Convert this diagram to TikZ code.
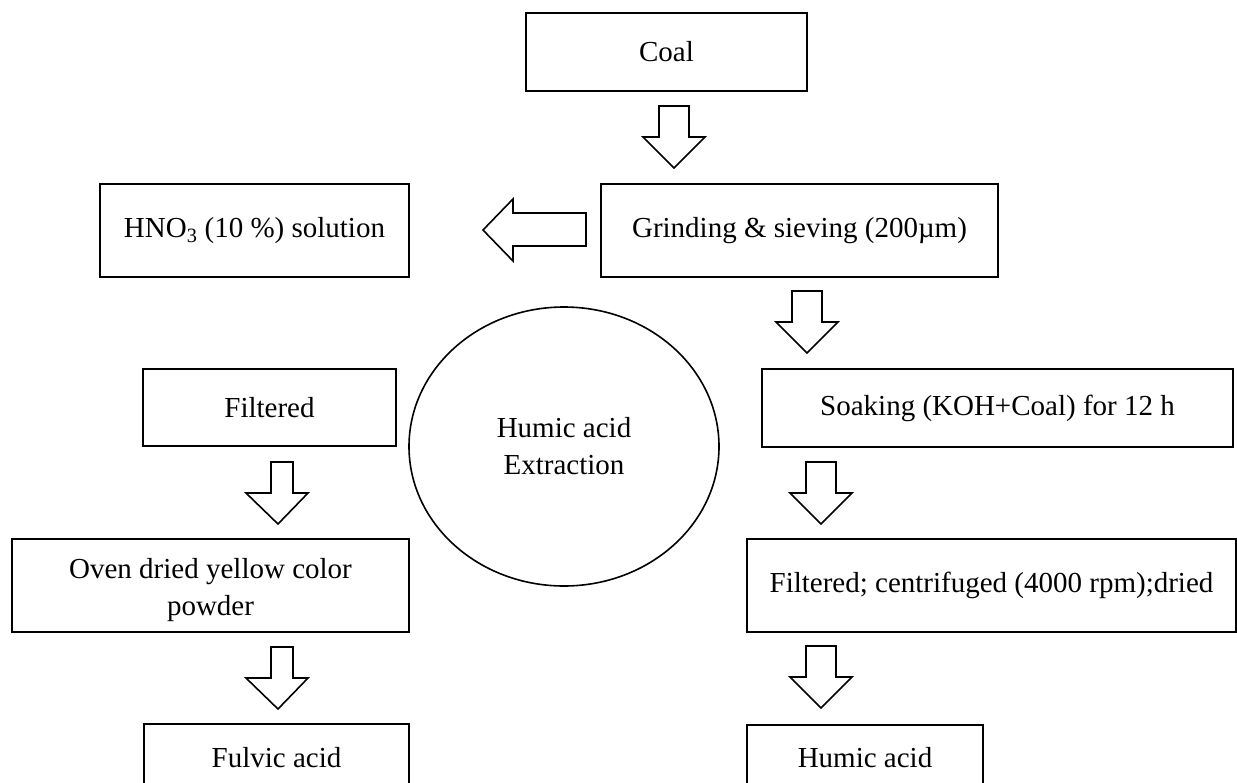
\documentclass[tikz,border=0pt]{standalone}
\usepackage{fontspec}
\setmainfont{Liberation Serif}
\usetikzlibrary{shapes.geometric}
\tikzset{
  txt/.style={font=\fontsize{29}{37}\selectfont, align=center},
  box/.style={draw, line width=2pt, rectangle, inner sep=0pt, txt},
  blk/.style={draw, line width=1.6pt, line join=miter, fill=white},
  pics/downarrow/.style={code={
    \draw[blk] (-15,-62) -- (15,-62) -- (15,-31) -- (31,-31) -- (0,0) -- (-31,-31) -- (-15,-31) -- cycle;}},
  pics/downarrowL/.style={code={
    \draw[blk] (-7,-62) -- (15,-62) -- (15,-31) -- (30,-31) -- (0,0) -- (-32,-31) -- (-7,-31) -- cycle;}},
  pics/leftarrow/.style={code={
    \draw[blk] (103,-17) -- (103,16) -- (30,16) -- (30,31) -- (0,0) -- (30,-31) -- (30,-17) -- cycle;}}
}
\begin{document}
\begin{tikzpicture}[x=1pt,y=-1pt]
\useasboundingbox (0,0) rectangle (1237,782);
\clip (0,0) rectangle (1237,782);
% boxes
\node[box, minimum width=281pt, minimum height=78pt] (coal) at (666.5,52) {Coal};
\node[box, minimum width=397pt, minimum height=93pt] (grind) at (799.5,230.5) {Grinding \& sieving (200µm)};
\node[box, minimum width=309pt, minimum height=93pt] (hno) at (254.5,230.5) {HNO\textsubscript{3} (10 \%) solution};
\node[box, minimum width=253pt, minimum height=77pt] (filtL) at (269.5,407.5) {Filtered};
\node[box, minimum width=471pt, minimum height=78pt] (soak) at (997.5,408) {Soaking (KOH+Coal) for 12 h};
\node[box, minimum width=397pt, minimum height=93pt,
  label={[txt, yshift=-5pt]center:Oven dried yellow color\\powder}] (oven) at (210.5,585.5) {};
\node[box, minimum width=489pt, minimum height=93pt] (filtR) at (991.5,585.5) {Filtered; centrifuged (4000 rpm);dried};
\node[box, minimum width=265pt, minimum height=76pt,
  label={[txt, yshift=4pt]center:Fulvic acid}] (fulvic) at (276.5,762) {};
\node[box, minimum width=236pt, minimum height=76pt,
  label={[txt, yshift=5pt]center:Humic acid}] (humic) at (865,763) {};
% circle
\node[draw, line width=1.6pt, ellipse, minimum width=310pt, minimum height=279pt, inner sep=0pt,
  txt] (extr) at (564,446.5) {Humic acid\\Extraction};
% block arrows
\pic at (674,168) {downarrow};
\pic at (483,230) {leftarrow};
\pic at (807,353) {downarrow};
\pic at (821,524) {downarrow};
\pic at (821,708) {downarrow};
\pic at (278,524) {downarrowL};
\pic at (278,709) {downarrowL};
\end{tikzpicture}
\end{document}
